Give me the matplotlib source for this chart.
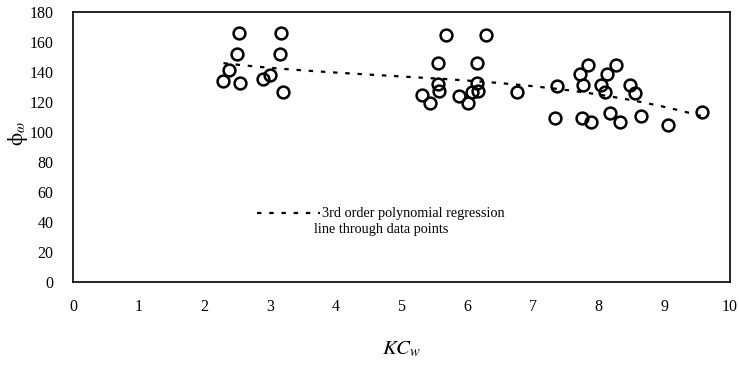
import numpy as np
import matplotlib
matplotlib.use("Agg")
import matplotlib.pyplot as plt

plt.rcParams['font.family'] = ['Liberation Serif', 'DejaVu Serif']
plt.rcParams['mathtext.fontset'] = 'stix'

# Data
kc_w = [2.52, 3.17, 2.50, 3.15, 2.38, 2.29, 2.54, 2.89, 3.00, 3.19,
        5.67, 6.28, 5.56, 6.15, 5.56, 5.57, 6.15, 6.16, 5.31, 5.44, 5.88, 6.01, 6.08, 6.76,
        7.37, 7.34, 7.84, 7.71, 8.27, 8.13, 7.77, 8.04, 8.10, 8.48, 8.55,
        7.75, 7.89, 8.18, 8.32, 8.64, 9.06, 9.57]
phi_w = [166.2, 166.2, 152.0, 152.0, 141.3, 134.0, 132.9, 135.3, 138.0, 126.9,
         164.7, 164.7, 146.3, 146.3, 132.3, 127.3, 132.9, 127.3, 124.7, 119.1, 124.0, 119.1, 126.5, 126.9,
         130.7, 109.3, 144.7, 138.7, 144.7, 138.7, 131.3, 131.3, 126.4, 131.3, 125.8,
         109.1, 106.9, 112.4, 106.9, 110.7, 104.7, 113.6]
x_ticks = [0, 1, 2, 3, 4, 5, 6, 7, 8, 9, 10]
y_ticks = [0, 20, 40, 60, 80, 100, 120, 140, 160, 180]
legend_text = "3rd order polynomial regression\nline through data points"

fig = plt.figure(figsize=(7.39, 3.66), dpi=100)
ax = fig.add_axes([0.0988, 0.2295, 0.8890, 0.7375])

x = np.array(kc_w)
y = np.array(phi_w)
coef = np.polyfit(x, y, 3)
xf = np.linspace(x.min(), x.max(), 200)
ax.plot(xf, np.polyval(coef, xf), color='black', lw=1.6, ls=(0, (2, 3.5)))

ax.plot(x, y, 'o', ms=8.5, mfc='none', mec='black', mew=1.8)

ax.set_xlim(0, 10)
ax.set_ylim(0, 180)
ax.set_xticks(x_ticks)
ax.set_yticks(y_ticks)
ax.tick_params(axis='both', length=0, labelsize=11.5)
ax.tick_params(axis='x', pad=12)
ax.tick_params(axis='y', pad=14)
for s in ax.spines.values():
    s.set_linewidth(1.2)

ax.set_xlabel(r'$KC_{w}$', fontsize=15, labelpad=18)
ax.set_ylabel(r'$\mathrm{\phi}_{\omega}$', fontsize=15)
ax.yaxis.set_label_coords(-0.066, 0.55)

# legend-like annotation
ax.plot([0.280, 0.376], [0.255, 0.255], transform=ax.transAxes, color='black',
        lw=1.6, ls=(0, (2, 3.5)))
ax.text(0.379, 0.255, legend_text.split("\n")[0], transform=ax.transAxes,
        fontsize=10.3, va='center', ha='left')
ax.text(0.367, 0.193, legend_text.split("\n")[1], transform=ax.transAxes,
        fontsize=10.3, va='center', ha='left')

fig.savefig('out.png', dpi=100)
